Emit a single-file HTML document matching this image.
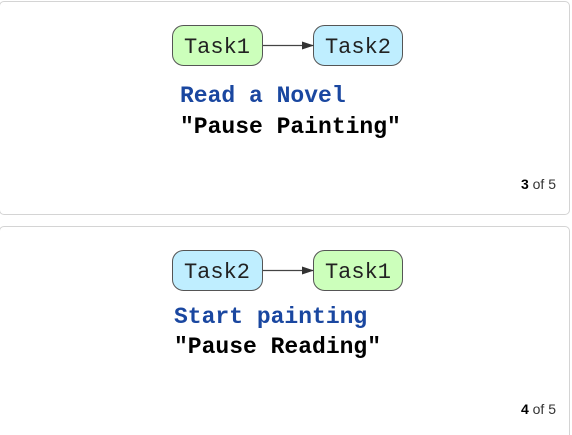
<!DOCTYPE html>
<html style="overflow:hidden;height:435px"><head><style>
body{margin:0;width:572px;height:435px;background:#fff;position:relative;overflow:hidden;font-family:"Liberation Sans",sans-serif}
.card{position:absolute;left:-1px;width:571px;border:1px solid #d4d4d4;border-radius:5px;box-sizing:border-box}
.t{position:absolute;font-family:"Liberation Mono",monospace;font-weight:bold;font-size:23px;white-space:nowrap}
.pg{position:absolute;right:16px;font-size:14px;color:#333}
</style></head><body>
<div class="card" style="top:1px;height:214px"></div>
<div class="card" style="top:226px;height:214px"></div>
<svg width="572" height="435" style="position:absolute;left:0;top:0">
<defs><marker id="a" markerWidth="12" markerHeight="8" refX="11" refY="4" orient="auto" markerUnits="userSpaceOnUse"><path d="M0,0L12,4L0,8z" fill="#333"/></marker></defs>
<g font-family="Liberation Mono,monospace" font-size="22" text-anchor="middle" fill="#222">
<rect x="172.5" y="25.5" width="90" height="40" rx="11" fill="#ccffbb" stroke="#555"/>
<rect x="313.5" y="25.5" width="89" height="40" rx="11" fill="#bfeeff" stroke="#555"/>
<line x1="263" y1="45.5" x2="313" y2="45.5" stroke="#444" stroke-width="1.3" marker-end="url(#a)"/>
<text x="217" y="53">Task1</text><text x="358" y="53">Task2</text>
<rect x="172.5" y="250.5" width="90" height="40" rx="11" fill="#bfeeff" stroke="#555"/>
<rect x="313.5" y="250.5" width="89" height="40" rx="11" fill="#ccffbb" stroke="#555"/>
<line x1="263" y1="270.5" x2="313" y2="270.5" stroke="#444" stroke-width="1.3" marker-end="url(#a)"/>
<text x="217" y="278">Task2</text><text x="358" y="278">Task1</text>
</g></svg>
<div class="t" style="left:180px;top:83px;color:#1a47a0">Read a Novel</div>
<div class="t" style="left:180px;top:114px;color:#000">"Pause Painting"</div>
<div class="pg" style="top:176px"><b style="color:#000">3</b> of 5</div>
<div class="t" style="left:174px;top:304px;color:#1a47a0">Start painting</div>
<div class="t" style="left:174px;top:334px;color:#000">"Pause Reading"</div>
<div class="pg" style="top:401px"><b style="color:#000">4</b> of 5</div>
</body></html>
